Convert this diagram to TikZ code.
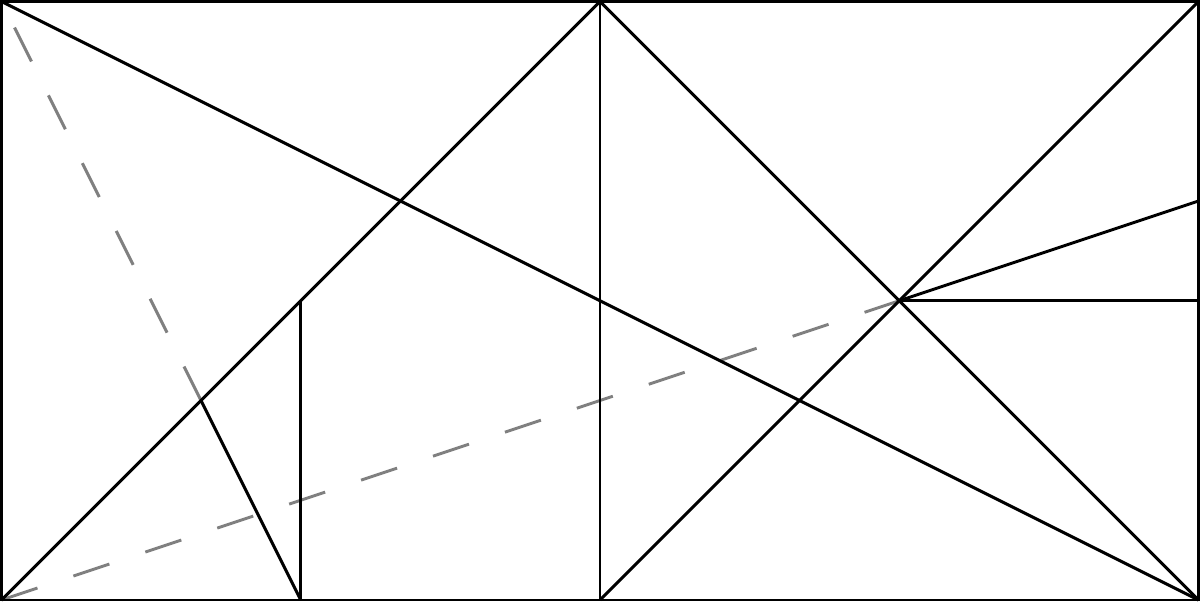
\documentclass[tikz,border=0pt]{standalone}
\begin{document}
\begin{tikzpicture}[x=1cm,y=1cm,
  solidline/.style={line width=0.85pt,black},
  guideline/.style={line width=0.85pt,gray,dash pattern=on 0.38cm off 0.38cm}]
\useasboundingbox (-0.015,-0.015) rectangle (12.015,6.015);
\coordinate (A) at (0,0);
\coordinate (B) at (12,0);
\coordinate (C) at (12,6);
\coordinate (D) at (0,6);
\coordinate (M) at (6,6);
\coordinate (Mb) at (6,0);
\coordinate (P) at (9,3);
\coordinate (Q) at (12,4);
\coordinate (R) at (12,3);
\coordinate (S) at (3,3);
\coordinate (T) at (3,0);
\coordinate (U) at (2,2);
\draw[guideline] (U) -- (D);
\draw[guideline] (A) -- (P);
\draw[solidline] (A) rectangle (C);
\draw[solidline] (M) -- (Mb);
\draw[solidline] (D) -- (B);
\draw[solidline] (A) -- (M);
\draw[solidline] (M) -- (B);
\draw[solidline] (Mb) -- (C);
\draw[solidline] (P) -- (Q);
\draw[solidline] (P) -- (R);
\draw[solidline] (S) -- (T);
\draw[solidline] (U) -- (T);
\end{tikzpicture}
\end{document}
